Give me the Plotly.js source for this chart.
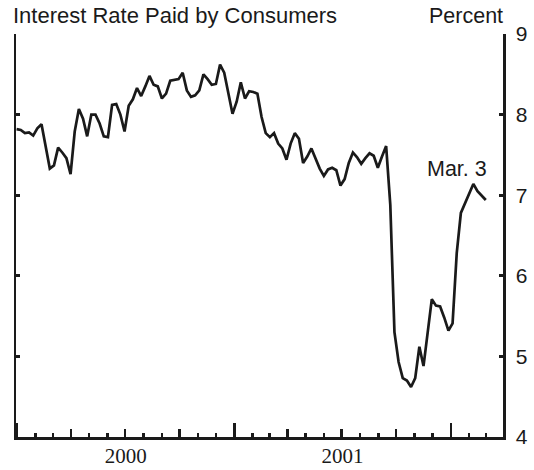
<!DOCTYPE html>
<html>
<head>
<meta charset="utf-8">
<script src="https://cdn.plot.ly/plotly-3.0.1.min.js"></script>
<style>
  html, body { margin: 0; padding: 0; background: #ffffff; }
  #chart { width: 534px; height: 470px; }
</style>
</head>
<body>
<div id="chart"></div>
<script>
// Weekly observations; first week and step
const FIRST_WEEK = '1999-12-31';
const STEP_DAYS = 7;

// Interest rate paid by consumers (percent), weekly
const rates = [
  7.82, 7.81, 7.77, 7.78, 7.74, 7.83, 7.88, 7.61, 7.33, 7.37, 7.59, 7.53, 7.46, 7.26,
  7.79, 8.07, 7.95, 7.73, 8.00, 8.00, 7.89, 7.73, 7.72, 8.12, 8.13, 8.00, 7.79, 8.11, 8.19,
  8.33, 8.23, 8.35, 8.48, 8.37, 8.35, 8.20, 8.26, 8.42, 8.43, 8.44, 8.52, 8.30, 8.22, 8.24,
  8.30, 8.50, 8.44, 8.37, 8.38, 8.62, 8.52, 8.28, 8.01, 8.16, 8.40, 8.20, 8.29, 8.28, 8.26,
  7.97, 7.77, 7.72, 7.77, 7.64, 7.58, 7.44, 7.64, 7.77, 7.70, 7.40, 7.48, 7.58, 7.46, 7.33,
  7.24, 7.32, 7.34, 7.31, 7.12, 7.20, 7.40, 7.53, 7.47, 7.39, 7.46, 7.52, 7.49, 7.34, 7.48, 7.61,
  6.88, 5.30, 4.93, 4.73, 4.70, 4.62, 4.73, 5.12, 4.88, 5.28, 5.71, 5.63, 5.62, 5.48, 5.32,
  5.41, 6.28, 6.78, 6.90, 7.02, 7.14, 7.05, 6.99, 6.94
];

const yTickVals = [4, 5, 6, 7, 8, 9];
const yTickText = ['4', '5', '6', '7', '8', '9'];

const titleText = 'Interest Rate Paid by Consumers';
const unitText = 'Percent';
const lastLabel = 'Mar. 3';

// Build weekly dates
const dates = [];
{
  const d0 = new Date(FIRST_WEEK + 'T00:00:00Z');
  for (let i = 0; i < rates.length; i++) {
    const d = new Date(d0.getTime() + i * STEP_DAYS * 86400000);
    dates.push(d.toISOString().slice(0, 10));
  }
}

const ink = '#1a1a1a';
const xRange = ['1999-12-30', '2002-03-30'];
const sans = 'Liberation Sans, Arial, Helvetica, sans-serif';
const serif = 'Liberation Serif, Times New Roman, serif';

const traces = [
  {
    x: dates, y: rates, type: 'scatter', mode: 'lines',
    line: { color: ink, width: 2.7, shape: 'linear' },
    hoverinfo: 'x+y', showlegend: false, xaxis: 'x', yaxis: 'y'
  },
  {
    // carrier for the year-tick axis (invisible)
    x: dates, y: rates, type: 'scatter', mode: 'lines',
    line: { color: 'rgba(0,0,0,0)', width: 0 },
    hoverinfo: 'skip', showlegend: false, xaxis: 'x2', yaxis: 'y'
  }
];

const layout = {
  width: 534, height: 470,
  margin: { l: 16, r: 31, t: 34, b: 33, pad: 0 },
  paper_bgcolor: '#ffffff', plot_bgcolor: '#ffffff',
  showlegend: false,
  title: {
    text: titleText,
    xref: 'container', yref: 'container',
    x: 13 / 534, xanchor: 'left',
    y: 1 - 15 / 470, yanchor: 'middle',
    font: { family: sans, size: 22, color: ink }
  },
  xaxis: {
    type: 'date', range: xRange,
    showgrid: false, zeroline: false,
    showline: true, linecolor: ink, linewidth: 2.5,
    ticks: 'inside', tick0: '2000-01-01', dtick: 'M3',
    ticklen: 8, tickwidth: 2.5, tickcolor: ink,
    showticklabels: false,
    minor: { ticks: 'inside', tick0: '2000-01-01', dtick: 'M1', ticklen: 4, tickwidth: 2.5, tickcolor: ink, showgrid: false },
    fixedrange: true
  },
  xaxis2: {
    type: 'date', range: xRange, overlaying: 'x', anchor: 'y', side: 'bottom',
    showgrid: false, zeroline: false, showline: false,
    ticks: 'inside', tick0: '2000-01-01', dtick: 'M12',
    ticklen: 14, tickwidth: 2.5, tickcolor: ink,
    ticklabelmode: 'period', tickformat: '%Y',
    ticklabelstandoff: 4,
    tickfont: { family: serif, size: 21, color: ink },
    fixedrange: true
  },
  yaxis: {
    range: [4, 9], side: 'right',
    showgrid: false, zeroline: false,
    showline: true, mirror: 'ticks', linecolor: ink, linewidth: 2.5,
    ticks: 'inside', ticklen: 4, tickwidth: 3, tickcolor: ink,
    tickvals: yTickVals, ticktext: yTickText,
    ticklabelstandoff: 6,
    tickfont: { family: sans, size: 21, color: ink },
    fixedrange: true
  },
  annotations: [
    {
      text: unitText, xref: 'paper', yref: 'paper',
      x: 1, xanchor: 'right', y: 1 + (34 - 16) / 403, yanchor: 'middle',
      xshift: 2,
      showarrow: false,
      font: { family: sans, size: 21.5, color: ink }
    },
    {
      text: lastLabel, xref: 'x', yref: 'y',
      x: dates[dates.length - 1], y: rates[rates.length - 1],
      xanchor: 'right', yanchor: 'bottom', yshift: 17, xshift: 3,
      showarrow: false,
      font: { family: sans, size: 21.5, color: ink }
    }
  ]
};

Plotly.newPlot('chart', traces, layout, { displayModeBar: false, staticPlot: true });
</script>
</body>
</html>
